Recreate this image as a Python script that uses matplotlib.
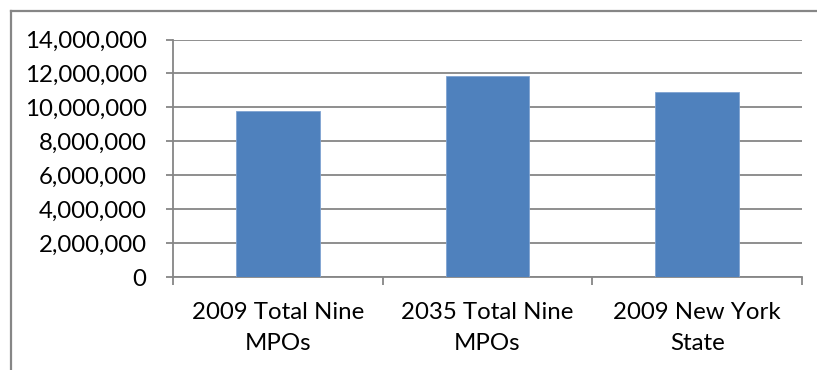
import matplotlib
matplotlib.use("Agg")
import matplotlib.pyplot as plt
from matplotlib.lines import Line2D
from matplotlib.ticker import FuncFormatter, FixedLocator, NullFormatter

plt.rcParams['font.family'] = ['Lato', 'DejaVu Sans']

categories = ["2009 Total Nine\nMPOs", "2035 Total Nine\nMPOs", "2009 New York\nState"]
values = [9_770_000, 11_830_000, 10_910_000]
y_ticks = [0, 2_000_000, 4_000_000, 6_000_000, 8_000_000, 10_000_000, 12_000_000, 14_000_000]

W, H = 817, 370
fig = plt.figure(figsize=(W / 100, H / 100), dpi=100)
ax = fig.add_axes([173 / W, 1 - 277.3 / H, (802 - 173) / W, (277.3 - 39.5) / H])

grid_col = "#868686"
bar_col = "#4F81BD"

x = list(range(len(categories)))
ax.bar(x, values, width=0.4, color=bar_col, edgecolor="#7FA3D2", linewidth=0.6, zorder=3)

ax.set_xlim(-0.5, len(categories) - 0.5)
ax.set_ylim(0, 14_000_000)
ax.set_yticks(y_ticks)
ax.yaxis.set_major_formatter(FuncFormatter(lambda v, p: f"{int(v):,}"))
ax.yaxis.grid(True, color=grid_col, linewidth=1.3, zorder=0)
ax.set_axisbelow(True)

# tick marks sit on the category boundaries; labels are centred under each bar
ax.xaxis.set_major_locator(FixedLocator([i - 0.5 for i in range(len(categories) + 1)]))
ax.xaxis.set_major_formatter(NullFormatter())
ax.tick_params(axis="x", which="major", direction="out", length=5.5, width=1.3, color=grid_col)
ax.tick_params(axis="y", direction="out", length=5, width=1.3, color=grid_col, pad=14, labelsize=17.3)

for xi, name in zip(x, categories):
    ax.annotate(name, xy=(xi, 0), xycoords=("data", "axes fraction"),
                xytext=(0, -17.5), textcoords="offset points",
                ha="center", va="top", fontsize=17.3, linespacing=1.6)

for side in ("top", "right"):
    ax.spines[side].set_visible(False)
for side in ("left", "bottom"):
    ax.spines[side].set_color(grid_col)
    ax.spines[side].set_linewidth(1.3)

# chart-area frame
fig.add_artist(Line2D([10.5 / W, 10.5 / W], [0, 1 - 10.5 / H], transform=fig.transFigure,
                      color=grid_col, linewidth=1.6))
fig.add_artist(Line2D([10.5 / W, 1], [1 - 10.5 / H, 1 - 10.5 / H], transform=fig.transFigure,
                      color=grid_col, linewidth=1.6))

fig.savefig("out.png", dpi=100, facecolor="white")
